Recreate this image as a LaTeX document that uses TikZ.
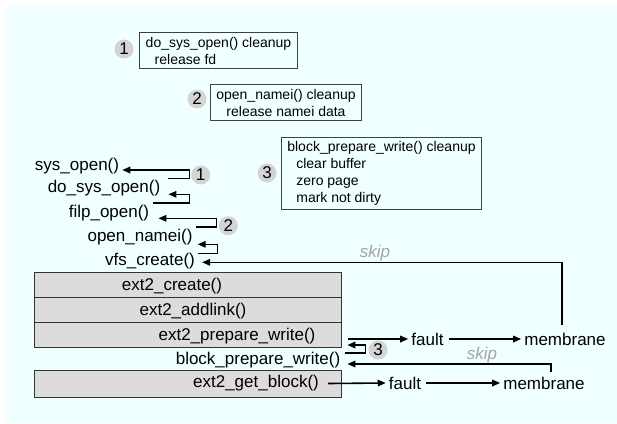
\documentclass[tikz,border=0pt]{standalone}
\usepackage{fontspec}
\setmainfont{Liberation Sans}
\usepackage{xcolor}
\usepackage{tikz}
\usetikzlibrary{arrows.meta}
\definecolor{paleaqua}{RGB}{240,255,255}
\definecolor{rowgray}{RGB}{220,220,220}
\definecolor{dotgray}{RGB}{212,212,212}
\definecolor{skipgray}{RGB}{165,165,165}
\tikzset{
  call label/.style={inner sep=0pt, font=\fontsize{17}{20}\selectfont},
  stack row/.style={draw=black!80, fill=rowgray, line width=0.8pt, minimum width=307pt, minimum height=25pt, inner sep=0pt},
  cleanup box/.style={draw=black!75, line width=0.8pt, inner xsep=6pt, inner ysep=4pt, font=\fontsize{14}{17}\selectfont},
  num dot/.style={circle, fill=dotgray, minimum size=19pt, inner sep=0pt, font=\fontsize{17}{20}\selectfont},
  ret arrow/.style={line width=1.6pt, -{Triangle[length=8pt,width=6.5pt]}},
  skip label/.style={inner sep=0pt, text=skipgray, font=\fontsize{17}{20}\selectfont\itshape},
}

\begin{document}
\begin{tikzpicture}[x=1pt,y=-1pt]
    \useasboundingbox (0,0) rectangle (617,423);
    \fill[white] (0,0) rectangle (617,423);
    \fill[paleaqua] (5,6) rectangle (617,423);

    \node[cleanup box, align=left] (dsoclean) at (218.5,50.5) {do\_sys\_open() cleanup\\\hspace*{9pt}release fd};
    \node[num dot] (top1) at (124,49) {1};
    \node[cleanup box, align=center] (onclean) at (286,102.5) {open\_namei() cleanup\\release namei data};
    \node[num dot] (top2) at (197,99) {2};
    \node[cleanup box, align=left] (bpwclean) at (381.5,173.5) {block\_prepare\_write() cleanup\\\hspace*{9pt}clear buffer\\\hspace*{9pt}zero page\\\hspace*{9pt}mark not dirty};
    \node[num dot] (top3) at (267,173) {3};

    \node[stack row] (row1) at (187.5,284.5) {};
    \node[stack row] (row2) at (187.5,309.5) {};
    \node[stack row] (row3) at (187.5,334.5) {};
    \node[stack row, minimum height=27pt] (row4) at (187.5,383.5) {};

    \node[call label] (so) at (77,166.5) {sys\_open()};
    \node[call label] (dso) at (104,188.5) {do\_sys\_open()};
    \node[call label] (fo) at (109,213) {filp\_open()};
    \node[call label] (on) at (140,237) {open\_namei()};
    \node[call label] (vc) at (150,261) {vfs\_create()};
    \node[call label] (ec) at (172,286) {ext2\_create()};
    \node[call label] (ea) at (193,311) {ext2\_addlink()};
    \node[call label] (epw) at (237,336) {ext2\_prepare\_write()};
    \node[call label] (bpw) at (258,360) {block\_prepare\_write()};
    \node[call label] (egb) at (256,383.5) {ext2\_get\_block()};

    \node[call label] (fault1) at (427.5,339) {fault};
    \node[call label] (mem1) at (565,339) {membrane};
    \node[call label] (fault2) at (405,383) {fault};
    \node[call label] (mem2) at (544,383) {membrane};
    \node[skip label] (skip1) at (375,253) {skip};
    \node[skip label] (skip2) at (482,355) {skip};

    \draw[ret arrow] ([shift={(8,-10.2)}]dso.east) -- ++(21,0) |- ([shift={(3,3.5)}]so.east);
    \draw[ret arrow] ([shift={(4,-10.3)}]fo.east) -- ++(36,0) |- ([shift={(8,5.8)}]dso.east);
    \draw[ret arrow] ([shift={(3,-10.3)}]on.east) -- ++(21,0) |- ([shift={(9,5.3)}]fo.east);
    \draw[ret arrow] ([shift={(2.5,-7.7)}]vc.east) -- ++(20,0) |- ([shift={(5,7.3)}]on.east);
    \draw[ret arrow] ([shift={(5,-7)}]bpw.east) -- ++(20,0) |- ([shift={(6,10.5)}]row3.east);
    \node[num dot] (dot1) at (200.7,175) {1};
    \node[num dot] (dot2) at (228.3,225.7) {2};
    \node[num dot] (dot3) at (378,350) {3};

    \draw[ret arrow] ([shift={(7,4.5)}]row3.east) -- ([xshift=-3pt]fault1.west);
    \draw[ret arrow] ([xshift=5pt]fault1.east) -- ([xshift=-3pt]mem1.west);
    \draw[ret arrow] ([shift={(-3,-8)}]mem1.north) |- ([shift={(7,1.3)}]vc.east);
    \draw[ret arrow] ([xshift=9pt]egb.east) -- ([xshift=-3pt]fault2.west);
    \draw[ret arrow] ([xshift=5pt]fault2.east) -- ([xshift=-3pt]mem2.west);
    \draw[ret arrow] ([shift={(7,-5)}]mem2.north) |- ([shift={(7,4)}]bpw.east);
\end{tikzpicture}
\end{document}
